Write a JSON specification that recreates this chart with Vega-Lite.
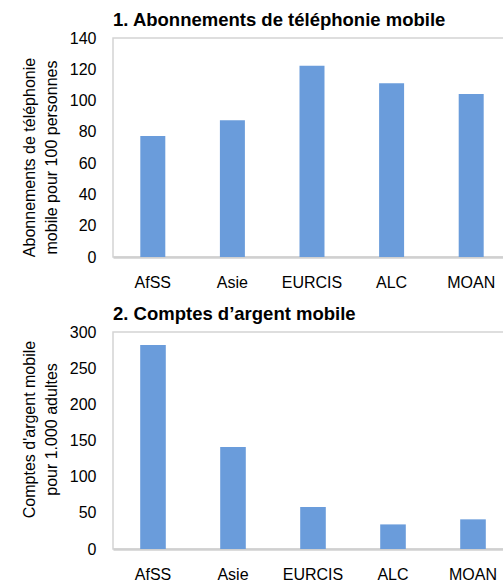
{
  "$schema": "https://vega.github.io/schema/vega-lite/v6.json",
  "padding": {"left": 20, "top": 9, "right": 0, "bottom": 0},
  "background": "white",
  "spacing": 12,
  "datasets": {
    "tel": [
      {"region": "AfSS", "value": 77.3},
      {"region": "Asie", "value": 87.5},
      {"region": "EURCIS", "value": 122.3},
      {"region": "ALC", "value": 111},
      {"region": "MOAN", "value": 104.2}
    ],
    "money": [
      {"region": "AfSS", "value": 282},
      {"region": "Asie", "value": 141},
      {"region": "EURCIS", "value": 58},
      {"region": "ALC", "value": 34},
      {"region": "MOAN", "value": 41}
    ]
  },
  "vconcat": [
    {
      "data": {"name": "tel"},
      "width": 398,
      "height": 219,
      "title": {"text": "1. Abonnements de téléphonie mobile"},
      "mark": {"type": "bar", "color": "#6a9cdb"},
      "encoding": {
        "x": {
          "field": "region", "type": "nominal", "sort": null,
          "scale": {"paddingInner": 0.686, "paddingOuter": 0.343},
          "axis": {"title": null}
        },
        "y": {
          "field": "value", "type": "quantitative",
          "scale": {"domain": [0, 140], "nice": false},
          "axis": {
            "values": [0, 20, 40, 60, 80, 100, 120, 140],
            "title": ["Abonnements de téléphonie", "mobile pour 100 personnes"],
            "titleY": 119
          }
        }
      }
    },
    {
      "data": {"name": "money"},
      "width": 400,
      "height": 217,
      "title": {"text": "2. Comptes d’argent mobile"},
      "mark": {"type": "bar", "color": "#6a9cdb"},
      "encoding": {
        "x": {
          "field": "region", "type": "nominal", "sort": null,
          "scale": {"paddingInner": 0.68, "paddingOuter": 0.34},
          "axis": {"title": null}
        },
        "y": {
          "field": "value", "type": "quantitative",
          "scale": {"domain": [0, 300], "nice": false},
          "axis": {
            "values": [0, 50, 100, 150, 200, 250, 300],
            "title": ["Comptes d'argent mobile", "pour 1.000 adultes"],
            "titleY": 97
          }
        }
      }
    }
  ],
  "config": {
    "font": "Liberation Sans",
    "view": {"stroke": "#d4d4d4", "strokeWidth": 1.5},
    "title": {
      "font": "Liberation Sans",
      "fontSize": 18.5,
      "fontWeight": "bold",
      "color": "#000000",
      "anchor": "start",
      "frame": "group",
      "offset": 1
    },
    "axis": {
      "grid": false,
      "ticks": false,
      "labelFont": "Liberation Sans",
      "labelFontSize": 16,
      "labelColor": "#000000",
      "titleFont": "Liberation Sans",
      "titleFontSize": 16,
      "titleFontWeight": "normal",
      "titleColor": "#000000",
      "titleLineHeight": 22
    },
    "axisY": {"domain": false, "labelPadding": 17, "titlePadding": 10},
    "axisX": {"domain": true, "domainColor": "#d0d0d0", "domainWidth": 2.5, "labelAngle": 0, "labelPadding": 17}
  }
}
